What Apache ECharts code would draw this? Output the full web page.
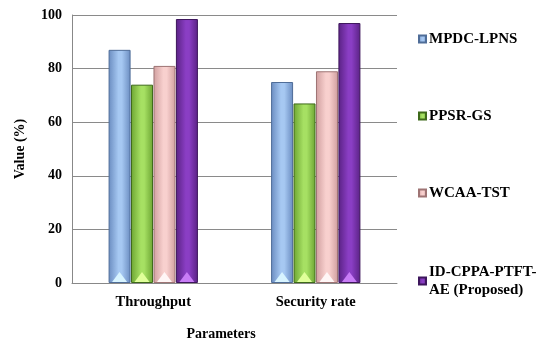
<!DOCTYPE html>
<html>
<head>
<meta charset="utf-8">
<script src="https://cdn.jsdelivr.net/npm/echarts@6/dist/echarts.min.js"></script>
<style>html,body{margin:0;padding:0;background:#fff}#c{width:556px;height:346px}</style>
</head>
<body>
<div id="c"></div>
<script>
var categories = ['Throughput', 'Security rate'];
var seriesNames = ['MPDC-LPNS', 'PPSR-GS', 'WCAA-TST', 'ID-CPPA-PTFT-AE (Proposed)'];
var mpdc = [87, 75];
var ppsr = [74, 67];
var wcaa = [81, 79];
var proposed = [98.5, 97];
var yTicks = [0, 20, 40, 60, 80, 100];

var font = '"Liberation Serif", "Times New Roman", serif';
var palettes = [
  {edge: '#6a8cc0', mid: '#a6c8f2', border: '#4f6d98', tri: '#d8f4ff'},
  {edge: '#6da533', mid: '#a6e063', border: '#3e6a1a', tri: '#e0ff9a'},
  {edge: '#d09f9f', mid: '#f8d0ce', border: '#9e7474', tri: '#fff6f6'},
  {edge: '#5a2284', mid: '#8a3ec4', border: '#3d165c', tri: '#c87cf6'}
];
function grad(p) {
  return new echarts.graphic.LinearGradient(0, 0, 1, 0, [
    {offset: 0, color: p.edge},
    {offset: 0.45, color: p.mid},
    {offset: 0.6, color: p.mid},
    {offset: 1, color: p.edge}
  ]);
}
var datas = [mpdc, ppsr, wcaa, proposed];
var chart = echarts.init(document.getElementById('c'));
var legendTops = [25, 102, 179, 258];
var series = datas.map(function (d, i) {
  return {
    name: seriesNames[i], type: 'bar', data: d,
    barWidth: 22, barGap: '2%',
    itemStyle: {color: grad(palettes[i]), borderColor: palettes[i].border, borderWidth: 1}
  };
});
datas.forEach(function (d, i) {
  series.push({
    name: seriesNames[i] + ' base', type: 'pictorialBar', data: d,
    barWidth: 22, barGap: '2%', z: 5,
    symbol: 'triangle', symbolPosition: 'start', symbolSize: [15, 10], symbolOffset: [0, -1],
    itemStyle: {color: palettes[i].tri, opacity: 1},
    silent: true
  });
});
chart.setOption({
  animation: false,
  textStyle: {fontFamily: font},
  grid: {left: 72, right: 159, top: 15, bottom: 62},
  legend: seriesNames.map(function (n, i) {
    return {
      data: [n], orient: 'vertical', left: 413, top: legendTops[i],
      icon: 'rect', itemWidth: 7, itemHeight: 7, itemGap: 0,
      formatter: function (name) { return name === seriesNames[3] ? 'ID-CPPA-PTFT-\nAE (Proposed)' : name; },
      textStyle: {fontFamily: font, fontWeight: 'bold', fontSize: 15, color: '#000', lineHeight: 18, padding: [0, 0, 0, -2]}
    };
  }),
  xAxis: {
    type: 'category', data: categories,
    name: 'Parameters', nameLocation: 'middle', nameGap: 44,
    nameTextStyle: {fontFamily: font, fontWeight: 'bold', fontSize: 14, color: '#000', padding: [0, 27, 0, 0]},
    axisLine: {lineStyle: {color: '#888', width: 1}},
    axisTick: {show: false},
    axisLabel: {fontFamily: font, fontWeight: 'bold', fontSize: 14.5, color: '#000', margin: 12}
  },
  yAxis: {
    type: 'value', min: 0, max: 100, interval: 20,
    name: 'Value (%)', nameLocation: 'middle', nameGap: 45,
    nameTextStyle: {fontFamily: font, fontWeight: 'bold', fontSize: 14, color: '#000'},
    axisLine: {show: true, lineStyle: {color: '#888', width: 1}},
    axisTick: {show: false},
    axisLabel: {fontFamily: font, fontWeight: 'bold', fontSize: 14, color: '#000', margin: 10,
      formatter: function (v) { return yTicks.indexOf(v) >= 0 ? String(v) : ''; }},
    splitLine: {lineStyle: {color: '#8a8a8a', width: 1}}
  },
  series: series
});
</script>
</body>
</html>
